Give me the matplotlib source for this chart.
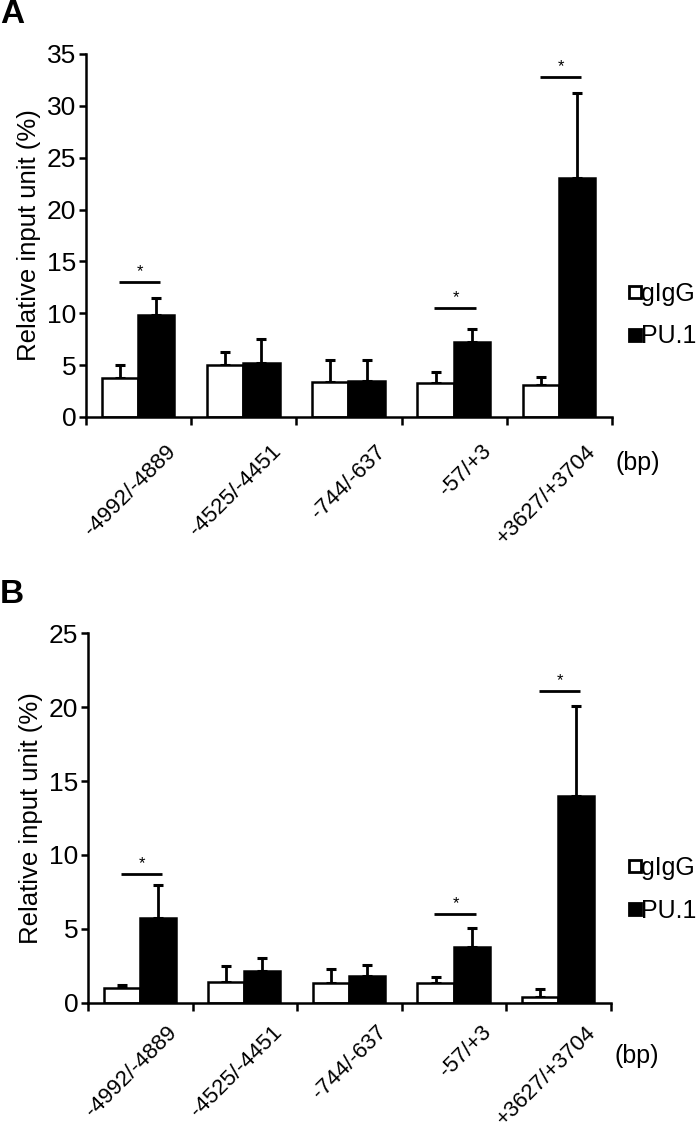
import matplotlib
matplotlib.use('Agg')
import matplotlib.pyplot as plt
from matplotlib.lines import Line2D
import numpy as np

plt.rcParams['font.family'] = ['Liberation Sans', 'DejaVu Sans']

# Data
regions = ['-4992/-4889', '-4525/-4451', '-744/-637', '-57/+3', '+3627/+3704']
series = ['gIgG', 'PU.1']

a_igg = [3.8, 5.0, 3.4, 3.25, 3.1]
a_igg_err = [1.2, 1.3, 2.1, 1.1, 0.8]
a_pu1 = [9.8, 5.2, 3.5, 7.2, 23.0]
a_pu1_err = [1.7, 2.3, 2.0, 1.3, 8.2]
a_sig = [0, 3, 4]          # groups with a significance bar
a_sig_y = [13.0, 10.5, 32.8]

b_igg = [1.0, 1.4, 1.3, 1.3, 0.4]
b_igg_err = [0.2, 1.05, 0.95, 0.45, 0.5]
b_pu1 = [5.7, 2.15, 1.8, 3.75, 14.0]
b_pu1_err = [2.25, 0.85, 0.75, 1.3, 6.1]
b_sig = [0, 3, 4]
b_sig_y = [8.7, 6.0, 21.1]

W, H = 700, 1132
fig = plt.figure(figsize=(W / 100, H / 100), dpi=100)

BW = 0.345
LW = 1.8


def panel(rect, igg, igg_err, pu1, pu1_err, sig, sig_y, ymax, ystep, letter, leg_y,
          lab_dy, bp_dy):
    ax = fig.add_axes(rect)
    x = np.arange(len(regions))
    xw = x + 0.15 + BW / 2
    xb = x + 0.15 + BW + BW / 2
    ax.bar(xw, igg, BW, color='white', edgecolor='black', linewidth=LW, zorder=2)
    ax.bar(xb, pu1, BW, color='black', edgecolor='black', linewidth=LW, zorder=2)
    ax.errorbar(xw, igg, yerr=[np.zeros(len(igg)), igg_err], fmt='none',
                ecolor='black', elinewidth=LW + 0.2, capsize=3.5, capthick=LW + 0.4, zorder=1)
    ax.errorbar(xb, pu1, yerr=[np.zeros(len(pu1)), pu1_err], fmt='none',
                ecolor='black', elinewidth=LW + 0.2, capsize=3.5, capthick=LW + 0.4, zorder=1)

    # significance bars
    for g, yy in zip(sig, sig_y):
        ax.plot([xw[g] - 0.01, xb[g] + 0.04], [yy, yy], color='black', lw=LW + 0.2,
                solid_capstyle='butt')
        ax.text((xw[g] + xb[g]) / 2 + 0.02, yy + ymax * 0.008, '*', ha='center',
                va='bottom', fontsize=12)

    ax.set_xlim(0, len(regions))
    ax.set_ylim(0, ymax)
    ax.set_yticks(np.arange(0, ymax + 0.1, ystep))
    ax.set_xticks(np.arange(0, len(regions) + 1))
    ax.set_xticklabels([])
    for s in ['top', 'right']:
        ax.spines[s].set_visible(False)
    for s in ['left', 'bottom']:
        ax.spines[s].set_linewidth(LW)
    ax.tick_params(axis='both', direction='out', width=LW, length=5, labelsize=19, pad=2)
    ax.tick_params(axis='x', length=6)
    ax.set_ylabel('Relative input unit (%)', fontsize=18.5, labelpad=4)

    for i, lab in enumerate(regions):
        ax.text(i + 0.75, lab_dy, lab, rotation=45, ha='right', va='top',
                rotation_mode='anchor', fontsize=16)
    ax.text(5.03, bp_dy, '(bp)', ha='left', va='center', fontsize=18)

    handles = [Line2D([], [], marker='s', ls='None', mfc='white', mec='black', mew=2, ms=8.5),
               Line2D([], [], marker='s', ls='None', mfc='black', mec='black', mew=2, ms=8.5)]
    fig.legend(handles, series, loc='center left', bbox_to_anchor=(0.898, leg_y),
               frameon=False, fontsize=18, handlelength=0.5, handletextpad=0.0,
               labelspacing=0.75, borderpad=0, borderaxespad=0)

    fig.text(0.0, rect[1] + rect[3] + 0.021, letter, fontsize=24, fontweight='bold',
             ha='left', va='bottom')
    return ax


panel([86 / W, 1 - 417 / H, 526 / W, 363 / H], a_igg, a_igg_err, a_pu1, a_pu1_err,
      a_sig, a_sig_y, 35, 5, 'A', 1 - 315 / H, -24 / 10.37, -46 / 10.37)
panel([88 / W, 1 - 1002.7 / H, 523 / W, 369.4 / H], b_igg, b_igg_err, b_pu1, b_pu1_err,
      b_sig, b_sig_y, 25, 5, 'B', 1 - 889.5 / H, -19 / 14.78, -53 / 14.78)

fig.savefig('out.png', dpi=100, facecolor='white')
